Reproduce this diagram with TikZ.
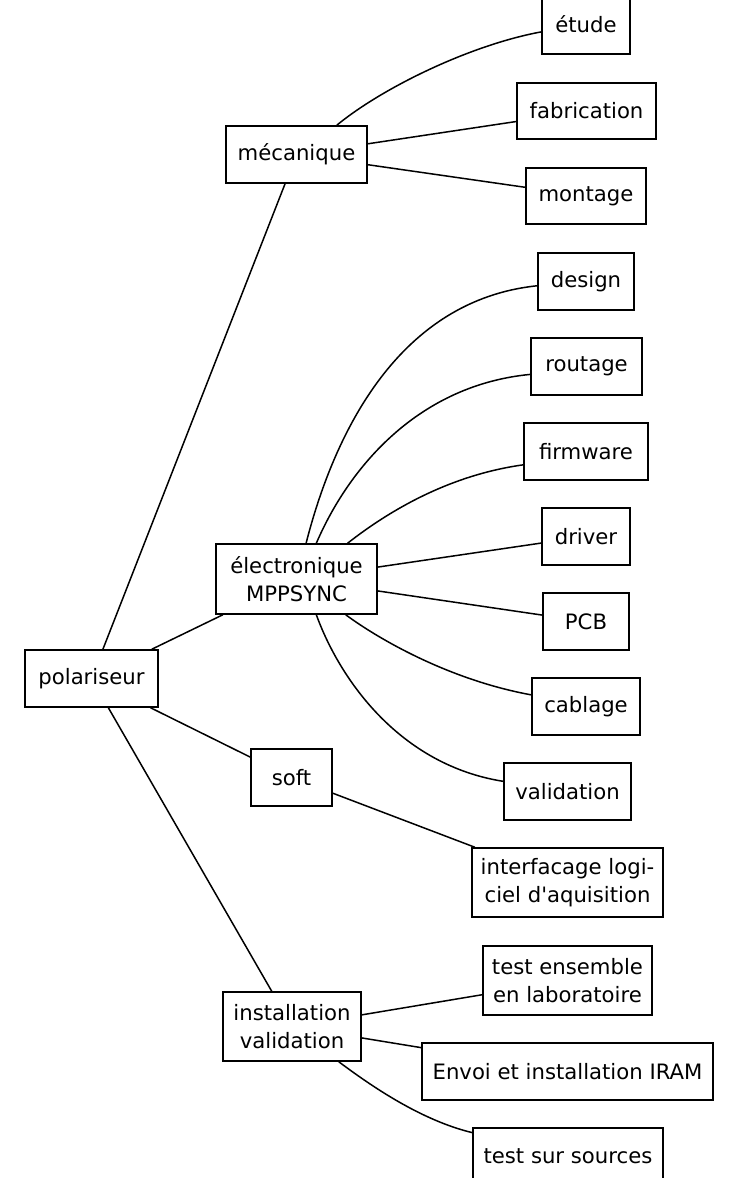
\documentclass[tikz,border=0pt]{standalone}
\usepackage{fontspec}
\setmainfont{DejaVu Sans}[Ligatures=TeXOff]
\begin{document}
\begin{tikzpicture}[x=0.5pt,y=-0.5pt,
  box/.style={draw, line width=0.75pt, inner sep=0pt, align=center,
    font=\fontsize{10.6pt}{14pt}\selectfont},
  edge/.style={line width=0.75pt}]
\useasboundingbox (0,0) rectangle (749,1178);
% main nodes
\node[box, minimum width=66.5pt, minimum height=28.5pt] (pol)  at (91.5,678.5) {polariseur};
\node[box, minimum width=70.5pt, minimum height=28.5pt] (mec)  at (296.5,154.5) {mécanique};
\node[box, minimum width=80.5pt, minimum height=35pt]   (elec) at (296.5,579) {électronique\\MPPSYNC};
\node[box, minimum width=40.5pt, minimum height=28.5pt] (soft) at (291.5,777.5) {soft};
\node[box, minimum width=69pt,   minimum height=34.5pt] (inst) at (292,1026.5) {installation\\validation};
% leaves
\node[box, minimum width=44pt,   minimum height=30pt]   (etude) at (586,24) {étude};
\node[box, minimum width=69.5pt, minimum height=28pt]   (fab)   at (586.5,111) {fabrication};
\node[box, minimum width=60pt,   minimum height=28pt]   (mont)  at (586,196) {montage};
\node[box, minimum width=48pt,   minimum height=28.5pt] (design) at (586,281.5) {design};
\node[box, minimum width=55.5pt, minimum height=28.5pt] (rout)  at (586.5,366.5) {routage};
\node[box, minimum width=62pt,   minimum height=28.5pt] (firm)  at (586,451.5) {firmware};
\node[box, minimum width=44pt,   minimum height=28.5pt] (drv)   at (586,536.5) {driver};
\node[box, minimum width=43pt,   minimum height=28.5pt] (pcb)   at (586,621.5) {PCB};
\node[box, minimum width=54pt,   minimum height=28.5pt] (cab)   at (586,706.5) {cablage};
\node[box, minimum width=63.5pt, minimum height=28.5pt] (val)   at (567.5,791.5) {validation};
\node[box, minimum width=95.5pt, minimum height=34.5pt] (intf)  at (567.5,882.5) {interfacage logi-\\ciel d'aquisition};
\node[box, minimum width=84.5pt, minimum height=34.5pt] (tens)  at (567.5,980.5) {test ensemble\\en laboratoire};
\node[box, minimum width=145.5pt,minimum height=28.5pt] (envoi) at (567.5,1071.5) {Envoi et installation IRAM};
\node[box, minimum width=95pt,   minimum height=28.5pt] (tss)   at (568,1156.5) {test sur sources};
% straight edges
\draw[edge] (pol) -- (mec);
\draw[edge] (pol) -- (elec);
\draw[edge] (pol) -- (soft);
\draw[edge] (pol) -- (inst);
\draw[edge] (mec) -- (fab);
\draw[edge] (mec) -- (mont);
\draw[edge] (elec) -- (drv);
\draw[edge] (elec) -- (pcb);
\draw[edge] (soft) -- (intf);
\draw[edge] (inst) -- (tens);
\draw[edge] (inst) -- (envoi);
% curved edges
\draw[edge] (mec.36) .. controls (382,88) and (470,45) .. (etude.190);
\draw[edge] (elec.75) .. controls (335,430) and (400,300) .. (design.185);
\draw[edge] (elec.61) .. controls (350,465) and (420,385) .. (rout.188);
\draw[edge] (elec.35) .. controls (390,510) and (450,475) .. (firm.192);
\draw[edge] (elec.-36) .. controls (380,640) and (450,680) .. (cab.168);
\draw[edge] (elec.-61) .. controls (340,680) and (400,765) .. (val.171);
\draw[edge] (inst.-37) .. controls (370,1085) and (420,1120) .. (tss.166);
\end{tikzpicture}
\end{document}
